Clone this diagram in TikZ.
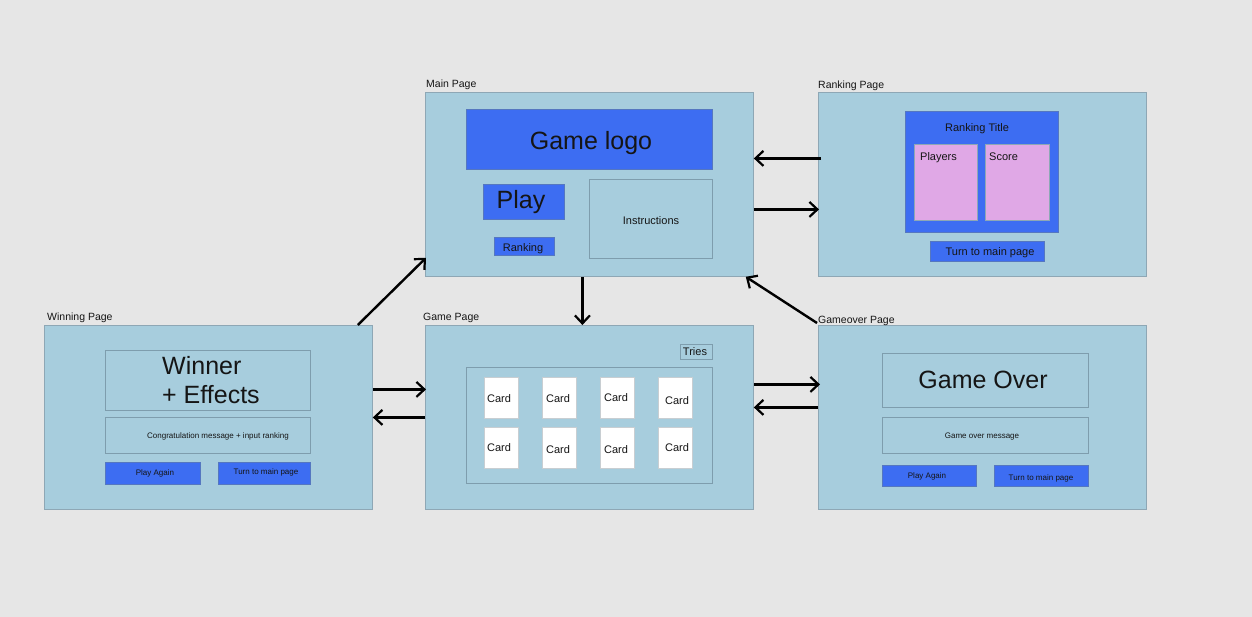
\documentclass[tikz,border=0pt]{standalone}
\usepackage{fontspec}
\setmainfont{Liberation Sans}
\usetikzlibrary{arrows.meta}
\definecolor{bgc}{HTML}{E6E6E6}
\definecolor{pagec}{HTML}{A7CDDD}
\definecolor{pageln}{HTML}{8EA7B5}
\definecolor{innerln}{HTML}{7E9DAD}
\definecolor{bluec}{HTML}{3D6DF2}
\definecolor{blueln}{HTML}{5577C0}
\definecolor{pinkc}{HTML}{E0A8E6}
\definecolor{cardln}{HTML}{C8CED2}
\definecolor{inkc}{HTML}{151515}
\tikzset{
  pagebox/.style={draw=pageln, fill=pagec, line width=0.8pt, anchor=north west, inner sep=0},
  framebox/.style={draw=innerln, line width=0.8pt, anchor=north west, inner sep=0},
  bluebox/.style={draw=blueln, fill=bluec, line width=0.8pt, anchor=north west, inner sep=0},
  pinkbox/.style={draw=pageln, fill=pinkc, line width=0.8pt, anchor=north west, inner sep=0},
  cardbox/.style={draw=cardln, fill=white, line width=0.8pt, anchor=north west, inner sep=0, minimum width=34pt, minimum height=41pt},
  txt/.style={anchor=base, inner sep=0, text=inkc, font=\fontsize{11}{13}\selectfont},
  bigtxt/.style={anchor=base, inner sep=0, text=inkc, font=\fontsize{25}{30}\selectfont},
  smalltxt/.style={anchor=base, inner sep=0, text=inkc, font=\fontsize{8}{10}\selectfont},
  lbl/.style={anchor=base west, inner sep=0, text=inkc, font=\fontsize{10.5}{12}\selectfont},
  flow/.style={line width=2.4pt, -{Straight Barb[length=8pt,width=15pt,line width=2.2pt]}},
}
\begin{document}
\begin{tikzpicture}[x=1pt,y=-1pt]
\useasboundingbox (0,0) rectangle (1252,616);
\fill[bgc] (-2,-2) rectangle (1254,618);

% ---- page frames
\node[pagebox, minimum width=328pt, minimum height=184pt] (main) at (425,92) {};
\node[pagebox, minimum width=328pt, minimum height=184pt] (rank) at (818,92) {};
\node[pagebox, minimum width=328pt, minimum height=184pt] (win) at (44,325) {};
\node[pagebox, minimum width=328pt, minimum height=184pt] (game) at (425,325) {};
\node[pagebox, minimum width=328pt, minimum height=184pt] (over) at (818,325) {};

% ---- page titles
\node[lbl] (lmain) at (426,87) {Main Page};
\node[lbl] (lrank) at (818,88) {Ranking Page};
\node[lbl] (lwin) at (47,320) {Winning Page};
\node[lbl] (lgame) at (423,320) {Game Page};
\node[lbl] (lover) at (818,323) {Gameover Page};

% ---- main page
\node[bluebox, minimum width=246pt, minimum height=60pt] (logo) at (466,109) {};
\node[bigtxt] (tlogo) at (591,149) {Game logo};
\node[bluebox, minimum width=81pt, minimum height=35pt] (play) at (483,184) {};
\node[bigtxt] (tplay) at (521,208) {Play};
\node[bluebox, minimum width=60pt, minimum height=18pt] (rbtn) at (494,237) {};
\node[txt] (trbtn) at (523,251) {Ranking};
\node[framebox, minimum width=123pt, minimum height=79pt] (instr) at (589,179) {};
\node[txt] (tinstr) at (651,224) {Instructions};

% ---- ranking page
\node[bluebox, minimum width=153pt, minimum height=121pt] (rtitle) at (905,111) {};
\node[txt] (trtitle) at (977,131) {Ranking Title};
\node[pinkbox, minimum width=63pt, minimum height=76pt] (players) at (914,144) {};
\node[txt, anchor=base west] (tplayers) at (920,160) {Players};
\node[pinkbox, minimum width=64pt, minimum height=76pt] (score) at (985,144) {};
\node[txt, anchor=base west] (tscore) at (989,160) {Score};
\node[bluebox, minimum width=114pt, minimum height=20pt] (rback) at (930,241) {};
\node[txt] (trback) at (990,255) {Turn to main page};

% ---- winning page
\node[framebox, minimum width=205pt, minimum height=60pt] (winner) at (105,350) {};
\node[bigtxt, anchor=base west] (twin1) at (162,374) {Winner};
\node[bigtxt, anchor=base west] (twin2) at (162,403) {+ Effects};
\node[framebox, minimum width=205pt, minimum height=36pt] (congr) at (105,417) {};
\node[smalltxt] (tcongr) at (218,438) {Congratulation message + input ranking};
\node[bluebox, minimum width=95pt, minimum height=22pt] (wplay) at (105,462) {};
\node[smalltxt] (twplay) at (155,475) {Play Again};
\node[bluebox, minimum width=92pt, minimum height=22pt] (wback) at (218,462) {};
\node[smalltxt] (twback) at (266,474) {Turn to main page};

% ---- game page
\node[framebox, minimum width=32pt, minimum height=15pt] (tries) at (680,344) {};
\node[txt] (ttries) at (695,355) {Tries};
\node[framebox, minimum width=246pt, minimum height=116pt] (board) at (466,367) {};
\node[cardbox] (c1) at (484,377) {};
\node[cardbox] (c2) at (542,377) {};
\node[cardbox] (c3) at (600,377) {};
\node[cardbox] (c4) at (658,377) {};
\node[cardbox] (c5) at (484,427) {};
\node[cardbox] (c6) at (542,427) {};
\node[cardbox] (c7) at (600,427) {};
\node[cardbox] (c8) at (658,427) {};
\node[txt] (tc1) at (499,402) {Card};
\node[txt] (tc2) at (558,402) {Card};
\node[txt] (tc3) at (616,401) {Card};
\node[txt] (tc4) at (677,404) {Card};
\node[txt] (tc5) at (499,451) {Card};
\node[txt] (tc6) at (558,453) {Card};
\node[txt] (tc7) at (616,453) {Card};
\node[txt] (tc8) at (677,451) {Card};

% ---- gameover page
\node[framebox, minimum width=206pt, minimum height=54pt] (gotitle) at (882,353) {};
\node[bigtxt] (tgotitle) at (983,388) {Game Over};
\node[framebox, minimum width=206pt, minimum height=36pt] (gomsg) at (882,417) {};
\node[smalltxt] (tgomsg) at (982,438) {Game over message};
\node[bluebox, minimum width=94pt, minimum height=21pt] (gplay) at (882,465) {};
\node[smalltxt] (tgplay) at (927,478) {Play Again};
\node[bluebox, minimum width=94pt, minimum height=21pt] (gback) at (994,465) {};
\node[smalltxt] (tgback) at (1041,480) {Turn to main page};

% ---- connectors
\draw[flow] ([shift={(3,-26)}]rank.west) -- ([shift={(0,-26)}]main.east);
\draw[flow] ([shift={(0,25)}]main.east) -- ([shift={(1,25)}]rank.west);
\draw[flow] ([shift={(-7,0)}]main.south) -- ([shift={(-7,0)}]game.north);
\draw[flow] ([shift={(-1,-2)}]over.north west) -- ([shift={(-8,0)}]main.south east);
\draw[flow] ([shift={(-15,0)}]win.north east) -- ([shift={(1,-19)}]main.south west);
\draw[flow] ([shift={(0,-28)}]win.east) -- ([shift={(1,-28)}]game.west);
\draw[flow] (game.west) -- (win.east);
\draw[flow] ([shift={(0,-33)}]game.east) -- ([shift={(2,-33)}]over.west);
\draw[flow] ([shift={(0,-10)}]over.west) -- ([shift={(0,-10)}]game.east);
\end{tikzpicture}
\end{document}
